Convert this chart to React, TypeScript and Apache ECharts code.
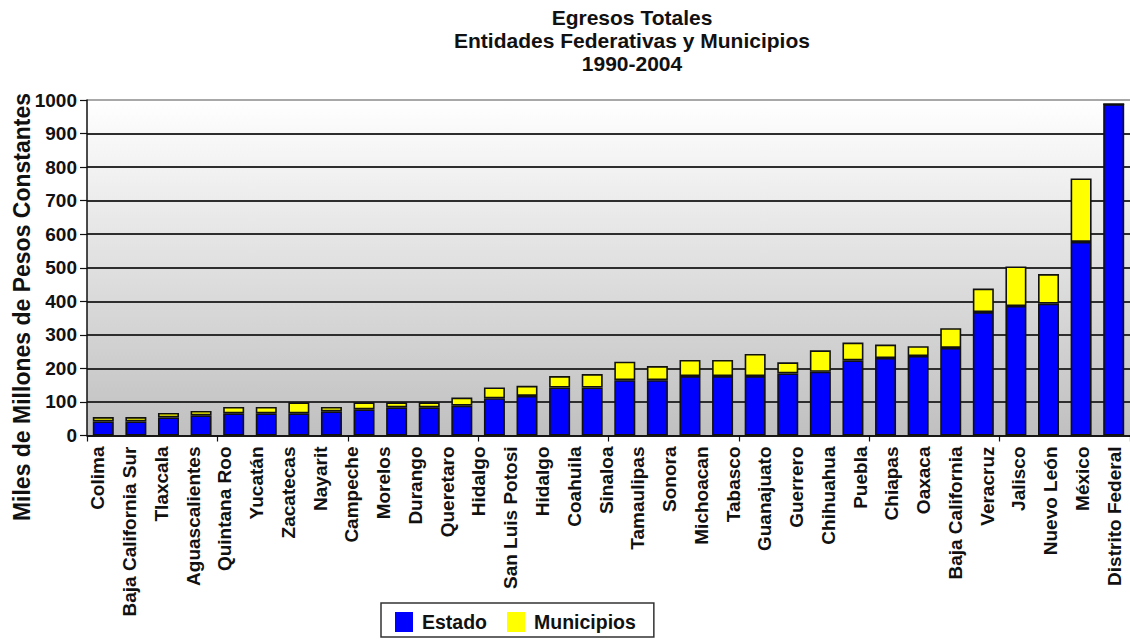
import React, { useEffect, useRef } from "react";
import * as echarts from "echarts";

// 32 federal entities, ordered by state spending (one bar each)
const entidades = [
  "Colima", "Baja California Sur", "Tlaxcala", "Aguascalientes", "Quintana Roo",
  "Yucatán", "Zacatecas", "Nayarit", "Campeche", "Morelos", "Durango", "Queretaro",
  "Hidalgo", "San Luis Potosi", "Coahuila", "Sinaloa", "Tamaulipas", "Sonora",
  "Michoacan", "Tabasco", "Guanajuato", "Guerrero", "Chihuahua", "Puebla", "Chiapas",
  "Oaxaca", "Baja California", "Veracruz", "Jalisco", "Nuevo León", "México",
  "Distrito Federal",
];

// Axis labels as printed under the chart (33 entries, "Hidalgo" appears twice)
const etiquetas = [
  "Colima", "Baja California Sur", "Tlaxcala", "Aguascalientes", "Quintana Roo",
  "Yucatán", "Zacatecas", "Nayarit", "Campeche", "Morelos", "Durango", "Queretaro",
  "Hidalgo", "San Luis Potosi", "Hidalgo", "Coahuila", "Sinaloa", "Tamaulipas",
  "Sonora", "Michoacan", "Tabasco", "Guanajuato", "Guerrero", "Chihuahua", "Puebla",
  "Chiapas", "Oaxaca", "Baja California", "Veracruz", "Jalisco", "Nuevo León",
  "México", "Distrito Federal",
];

// Miles de millones de pesos constantes, 1990-2004
const estado = [
  42, 42, 54, 60, 66, 66, 66, 72, 78, 84, 84, 89, 111, 118, 143, 143, 165, 165,
  177, 177, 177, 185, 190, 224, 231, 237, 261, 368, 386, 393, 577, 988,
];
const municipios = [
  13, 13, 13, 13, 19, 19, 33, 13, 21, 15, 15, 24, 32, 30, 34, 40, 55, 42,
  48, 48, 66, 33, 64, 53, 40, 29, 59, 70, 118, 88, 189, 0,
];

const yTicks = { min: 0, max: 1000, interval: 100 };

const FONT = "'Liberation Sans', Arial, Helvetica, sans-serif";
const INK = "#111111";

export default function App() {
  const ref = useRef<HTMLDivElement>(null);

  useEffect(() => {
    if (!ref.current) return;
    const chart = echarts.init(ref.current, null, { renderer: "svg" });

    // top line of the plot frame is lighter than the inner grid lines
    const gridColors = Array.from({ length: 11 }, (_, i) => (i === 10 ? "#a8a8a8" : "#2e2e2e"));

    chart.setOption({
      animation: false,
      backgroundColor: "#ffffff",
      textStyle: { fontFamily: FONT },
      graphic: [
        {
          type: "text",
          x: 632,
          y: 6,
          style: {
            text: "Egresos Totales\nEntidades Federativas y Municipios\n1990-2004",
            textAlign: "center",
            textVerticalAlign: "top",
            fontFamily: FONT,
            fontSize: 21,
            fontWeight: "bold",
            lineHeight: 23,
            fill: INK,
          },
        },
        {
          type: "text",
          x: 22,
          y: 307,
          rotation: Math.PI / 2,
          style: {
            text: "Miles de Millones de Pesos Constantes",
            textAlign: "center",
            textVerticalAlign: "middle",
            fontFamily: FONT,
            fontSize: 23,
            fontWeight: "bold",
            fill: INK,
          },
        },
      ],
      legend: {
        left: 381,
        top: 603,
        orient: "horizontal",
        itemWidth: 18,
        itemHeight: 20,
        itemGap: 20,
        padding: [9, 18, 5, 14],
        borderColor: "#333333",
        borderWidth: 1.5,
        backgroundColor: "#ffffff",
        icon: "rect",
        itemStyle: { borderWidth: 0 },
        textStyle: {
          fontFamily: FONT,
          fontSize: 19.5,
          fontWeight: "bold",
          color: INK,
          padding: [0, 0, 0, 4],
        },
        data: ["Estado", "Municipios"],
      },
      grid: [
        {
          left: 87,
          right: -7,
          top: 100,
          bottom: 205.5,
          show: true,
          borderWidth: 0,
          backgroundColor: new echarts.graphic.LinearGradient(0, 0, 0, 1, [
            { offset: 0, color: "#ffffff" },
            { offset: 1, color: "#c0c0c0" },
          ]),
        },
        { left: 82, right: -6, top: 100, bottom: 205.5, show: false },
      ],
      xAxis: [
        {
          type: "category",
          gridIndex: 0,
          data: entidades,
          axisLine: { show: true, lineStyle: { color: INK, width: 1.5 } },
          axisTick: { show: true, length: 6, lineStyle: { color: INK, width: 1.2 } },
          axisLabel: { show: false },
          splitLine: { show: false },
        },
        {
          type: "category",
          gridIndex: 1,
          data: etiquetas,
          axisLine: { show: false },
          axisTick: { show: false },
          splitLine: { show: false },
          axisLabel: {
            interval: 0,
            rotate: 90,
            margin: 11,
            fontFamily: FONT,
            fontSize: 19,
            fontWeight: "bold",
            color: INK,
          },
        },
      ],
      yAxis: [
        {
          type: "value",
          gridIndex: 0,
          min: yTicks.min,
          max: yTicks.max,
          interval: yTicks.interval,
          axisLine: { show: true, lineStyle: { color: INK, width: 1.5 } },
          axisTick: { show: true, length: 7, lineStyle: { color: INK, width: 1.2 } },
          axisLabel: {
            margin: 10,
            formatter: (v: number) => String(v),
            fontFamily: FONT,
            fontSize: 19,
            fontWeight: "bold",
            color: INK,
          },
          splitLine: { show: true, lineStyle: { color: gridColors, width: 2 } },
        },
        {
          type: "value",
          gridIndex: 1,
          min: yTicks.min,
          max: yTicks.max,
          show: false,
          splitLine: { show: false },
        },
      ],
      series: [
        {
          name: "Estado",
          type: "bar",
          stack: "total",
          xAxisIndex: 0,
          yAxisIndex: 0,
          barWidth: 21,
          data: estado,
          itemStyle: { color: "#0000ff", borderColor: "#111111", borderWidth: 1.6 },
        },
        {
          name: "Municipios",
          type: "bar",
          stack: "total",
          xAxisIndex: 0,
          yAxisIndex: 0,
          barWidth: 21,
          data: municipios,
          itemStyle: { color: "#ffff00", borderColor: "#111111", borderWidth: 1.6 },
        },
      ],
    });

    return () => chart.dispose();
  }, []);

  return (
    <div
      ref={ref}
      style={{ position: "fixed", left: 0, top: 0, width: 1130, height: 641 }}
    />
  );
}
